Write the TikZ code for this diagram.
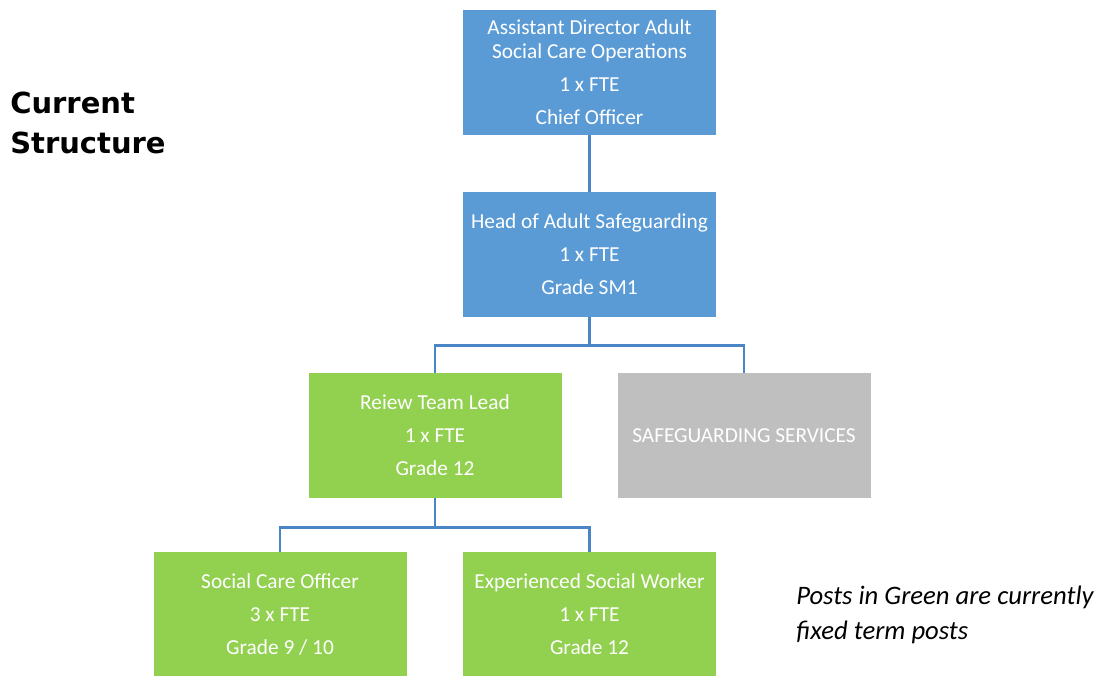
\documentclass[tikz,border=0pt]{standalone}
\usepackage{fontspec}
\setmainfont{Carlito}
\newfontfamily\headfont{DejaVu Sans}
\definecolor{boxblue}{HTML}{5B9BD5}
\definecolor{boxgreen}{HTML}{92D050}
\definecolor{boxgray}{HTML}{BFBFBF}
\definecolor{linkblue}{HTML}{4A86C5}
\tikzset{
  post/.style={draw=none, minimum width=189.75pt, minimum height=93.5pt, inner sep=0pt,
    text=white, align=center, font=\fontsize{16}{18}\selectfont},
  bluepost/.style={post, fill=boxblue},
  greenpost/.style={post, fill=boxgreen},
  graypost/.style={post, fill=boxgray},
  link/.style={draw=linkblue, line width=2.1pt}
}
\begin{document}
\begin{tikzpicture}[x=0.75pt,y=-0.75pt]
\useasboundingbox (0,0) rectangle (1096,675);
\node[bluepost] (ad) at (589.5,72.5) {Assistant Director Adult\\Social Care Operations\\[6.75pt]1 x FTE\\[6.75pt]Chief Officer};
\node[bluepost] (head) at (589.5,254.5) {Head of Adult Safeguarding\\[6.75pt]1 x FTE\\[6.75pt]Grade SM1};
\node[greenpost] (rtl) at (435,435.5) {Reiew Team Lead\\[6.75pt]1 x FTE\\[6.75pt]Grade 12};
\node[graypost] (sg) at (744,435.5) {SAFEGUARDING SERVICES};
\node[greenpost] (sco) at (280,614.5) {Social Care Officer\\[6.75pt]3 x FTE\\[6.75pt]Grade 9 / 10};
\node[greenpost] (esw) at (589.5,614.5) {Experienced Social Worker\\[6.75pt]1 x FTE\\[6.75pt]Grade 12};
\node[anchor=west, inner sep=0pt, align=left, font=\headfont\bfseries\fontsize{21.75}{30}\selectfont] (title) at (10,123) {Current\\Structure};
\node[anchor=west, inner sep=0pt, align=left, font=\itshape\fontsize{20}{26.25}\selectfont] (note) at (796,615) {Posts in Green are currently\\fixed term posts};
\draw[link] (ad.south) -- (head.north);
\draw[link] (head.south) -- ++(0,28) coordinate (h1) -| (rtl.north);
\draw[link] (h1) -| (sg.north);
\draw[link] (rtl.south) -- ++(0,29) coordinate (h2) -| (sco.north);
\draw[link] (h2) -| (esw.north);
\end{tikzpicture}
\end{document}
